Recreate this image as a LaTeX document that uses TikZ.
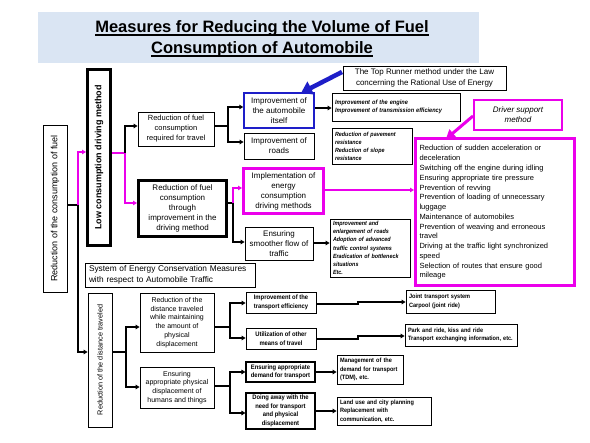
\documentclass[tikz,border=0pt]{standalone}
\usepackage{fontspec}
\setmainfont{Liberation Sans}
\newfontfamily\narrowfont[FakeStretch=0.9]{Liberation Sans}
\usetikzlibrary{arrows.meta}
\definecolor{mag}{RGB}{235,0,235}
\definecolor{bluebox}{RGB}{30,30,200}
\definecolor{titlebg}{RGB}{218,229,243}
\newcommand{\myul}[1]{\setbox0\hbox{#1}\rlap{\rule[-2.8pt]{\wd0}{1.2pt}}\box0}
\begin{document}
\begin{tikzpicture}[x=1pt,y=-1pt,
  box/.style={draw=black, line width=0.8pt, inner sep=0pt, align=center, font=\fontsize{7.5}{10}\selectfont},
  thickbox/.style={box, line width=3pt},
  bluebx/.style={box, draw=bluebox, line width=1.5pt, font=\fontsize{8}{10}\selectfont},
  magbox/.style={box, draw=mag, line width=3pt},
  tinyit/.style={box, align=left, inner xsep=3pt, font=\narrowfont\bfseries\itshape\fontsize{6.2}{7.5}\selectfont},
  tinybf/.style={box, font=\narrowfont\bfseries\fontsize{6.5}{8.5}\selectfont},
  tinybfl/.style={box, align=left, inner xsep=3pt, font=\narrowfont\bfseries\fontsize{6.2}{8.5}\selectfont},
  blk/.style={draw=black, line width=1.5pt},
  thinl/.style={draw=black, line width=1.1pt},
  magl/.style={draw=mag, line width=2pt},
  arr/.style={-{Triangle[length=4pt,width=4.5pt]}}]
\useasboundingbox (0,0) rectangle (590,443);
\fill[white] (0,0) rectangle (590,443);
% title
\fill[titlebg] (38,12) rectangle (479,63);
\node[font=\bfseries\fontsize{16.5}{21}\selectfont, align=center] (title) at (262,39)
  {\myul{Measures for Reducing the Volume of Fuel}\\\myul{Consumption of Automobile}};
% left column
\node[box, minimum width=24pt, minimum height=167pt, font=\fontsize{9}{10}\selectfont] (lf) at (55,208.5)
  {\rotatebox{90}{Reduction of the consumption of fuel}};
\node[thickbox, minimum width=23pt, minimum height=176pt, font=\bfseries\fontsize{9}{10}\selectfont] (low) at (99,157.5)
  {\rotatebox{90}{Low consumption driving method}};
\node[box, align=left, text width=162pt, inner xsep=4pt, minimum height=24pt, font=\fontsize{8.3}{10.5}\selectfont] (sys) at (170,275)
  {System of Energy Conservation Measures\\with respect to Automobile Traffic};
\node[box, minimum width=24pt, minimum height=134pt, font=\fontsize{7.3}{9}\selectfont] (dist) at (100,360)
  {\rotatebox{90}{Reduction of the distance traveled}};
% second column
\node[box, minimum width=76pt, minimum height=34pt] (b1) at (176,129)
  {Reduction of fuel\\consumption\\required for travel};
\node[thickbox, minimum width=88pt, minimum height=56pt, font=\fontsize{8}{10}\selectfont] (b2) at (182.5,208.5)
  {Reduction of fuel\\consumption\\through\\improvement in the\\driving method};
\node[box, minimum width=74pt, minimum height=59pt, font=\fontsize{7}{8.7}\selectfont] (e1) at (177,322.5)
  {Reduction of the\\distance traveled\\while maintaining\\the amount of\\physical\\displacement};
\node[box, minimum width=74pt, minimum height=41pt, font=\fontsize{7}{8.7}\selectfont] (e2) at (177,387.5)
  {Ensuring\\appropriate physical\\displacement of\\humans and things};
% third column
\node[bluebx, minimum width=70pt, minimum height=35pt] (c1) at (279,110.5)
  {Improvement of\\the automobile\\itself};
\node[box, minimum width=70pt, minimum height=26pt, font=\fontsize{8}{10}\selectfont] (c2) at (279,146)
  {Improvement of\\roads};
\node[magbox, minimum width=80pt, minimum height=45pt, font=\fontsize{8}{10}\selectfont] (c3) at (283.5,191)
  {Implementation of\\energy\\consumption\\driving methods};
\node[box, minimum width=68pt, minimum height=33pt, font=\fontsize{8}{10}\selectfont] (c4) at (279,243.5)
  {Ensuring\\smoother flow of\\traffic};
\node[tinybf, minimum width=70pt, minimum height=21pt] (f1) at (281,302.5)
  {Improvement of the\\transport efficiency};
\node[tinybf, minimum width=70pt, minimum height=21pt] (f2) at (281,338.5)
  {Utilization of other\\means of travel};
\node[tinybf, minimum width=69pt, minimum height=20pt, line width=1.1pt] (f3) at (280.5,372)
  {Ensuring appropriate\\demand for transport};
\node[tinybf, minimum width=69pt, minimum height=36pt, line width=1.1pt] (f4) at (280.5,411)
  {Doing away with the\\need for transport\\and physical\\displacement};
% fourth column
\node[tinyit, text width=122pt, minimum height=28pt] (d1) at (396,107)
  {Improvement of the engine\\Improvement of transmission efficiency};
\node[tinyit, text width=74pt, minimum height=36pt, font=\narrowfont\bfseries\itshape\fontsize{6}{8}\selectfont] (d2) at (372,146)
  {Reduction of pavement\\resistance\\Reduction of slope\\resistance};
\node[tinyit, text width=74pt, minimum height=58pt, font=\narrowfont\bfseries\itshape\fontsize{6}{8.2}\selectfont] (d3) at (370,248)
  {Improvement and\\enlargement of roads\\Adoption of advanced\\traffic control systems\\Eradication of bottleneck\\situations\\Etc.};
\node[box, minimum width=163pt, minimum height=24pt, font=\fontsize{8}{10.5}\selectfont] (tr) at (424.5,78)
  {The Top Runner method under the Law\\concerning the Rational Use of Energy};
\node[box, draw=mag, line width=2pt, minimum width=88pt, minimum height=30pt, font=\itshape\fontsize{8}{10}\selectfont] (drv) at (518,115)
  {Driver support\\method};
\node[magbox, align=left, text width=151pt, inner xsep=4pt, minimum height=147pt, font=\fontsize{7.5}{9.77}\selectfont] (big) at (495,212.5)
  {Reduction of sudden acceleration or\\deceleration\\Switching off the engine during idling\\Ensuring appropriate tire pressure\\Prevention of revving\\Prevention of loading of unnecessary\\luggage\\Maintenance of automobiles\\Prevention of weaving and erroneous\\travel\\Driving at the traffic light synchronized\\speed\\Selection of routes that ensure good\\mileage};
\node[tinybfl, text width=83pt, minimum height=23pt] (g1) at (450.5,301.5)
  {Joint transport system\\Carpool (joint ride)};
\node[tinybfl, text width=106pt, minimum height=22pt] (g2) at (461,335)
  {Park and ride, kiss and ride\\Transport exchanging information, etc.};
\node[tinybfl, text width=60pt, minimum height=29pt] (g3) at (370,369.5)
  {Management of the\\demand for transport\\(TDM), etc.};
\node[tinybfl, text width=88pt, minimum height=28pt] (g4) at (384,411)
  {Land use and city planning\\Replacement with\\communication, etc.};
% connectors
\coordinate (j0) at (78,205);
\draw[blk] (lf.east |- j0) -- (j0);
\draw[magl,arr] (j0) |- (low.west |- 0,152);
\draw[blk,arr] (j0) |- (dist.west |- 0,352);
\coordinate (j1) at (125,153);
\draw[magl] (low.east |- j1) -- (j1);
\draw[blk,arr] (j1) |- (b1.west |- 0,126);
\draw[magl,arr] (j1) |- (b2.west |- 0,203);
\coordinate (j2) at (228,126);
\draw[blk] (b1.east |- j2) -- (j2);
\draw[blk,arr] (j2) |- (c1.west |- 0,107);
\draw[blk,arr] (j2) |- (c2.west |- 0,142);
\coordinate (j3) at (233,203);
\draw[blk] (b2.east |- j3) -- (j3);
\draw[magl,arr] (j3) |- (c3.west |- 0,188);
\draw[blk,arr] (j3) |- (c4.west |- 0,242);
\draw[blk,arr] (c1.east |- 0,108) -- (d1.west |- 0,108);
\draw[blk,arr] (c4.east |- 0,243) -- (d3.west |- 0,243);
\draw[magl,arr] (c3.east |- 0,190) -- (big.west |- 0,190);
\coordinate (j4) at (126,352);
\draw[thinl] (dist.east |- j4) -- (j4);
\draw[thinl,arr] (j4) |- (e1.west |- 0,327);
\draw[thinl,arr] (j4) |- (e2.west |- 0,387);
\coordinate (j5) at (230,327);
\draw[thinl] (e1.east |- j5) -- (j5);
\draw[thinl,arr] (j5) |- (f1.west |- 0,303);
\draw[thinl,arr] (j5) |- (f2.west |- 0,338);
\coordinate (j6) at (230,386);
\draw[thinl] (e2.east |- j6) -- (j6);
\draw[blk,arr] (j6) |- (f3.west |- 0,372);
\draw[blk,arr] (j6) |- (f4.west |- 0,413);
\draw[thinl,arr] (f1.east |- 0,304) -- (358,304) -- (358,302) -- (g1.west |- 0,302);
\draw[thinl,arr] (f2.east |- 0,339) -- (358,339) -- (358,336) -- (g2.west |- 0,336);
\draw[thinl,arr] (f3.east |- 0,372) -- (g3.west |- 0,372);
\draw[thinl,arr] (f4.east |- 0,411) -- (g4.west |- 0,411);
% thick pointer arrows
\coordinate (trtail) at (342,72);
\coordinate (c1tip) at (301,93);
\draw[draw=bluebox, line width=4.5pt, -{Triangle[length=11pt,width=14pt]}] (trtail) -- (c1tip);
\coordinate (drvtail) at (473,116);
\coordinate (bigtip) at (446,139);
\draw[draw=mag, line width=3pt, -{Triangle[length=9pt,width=10pt]}] (drvtail) -- (bigtip);
\end{tikzpicture}
\end{document}
